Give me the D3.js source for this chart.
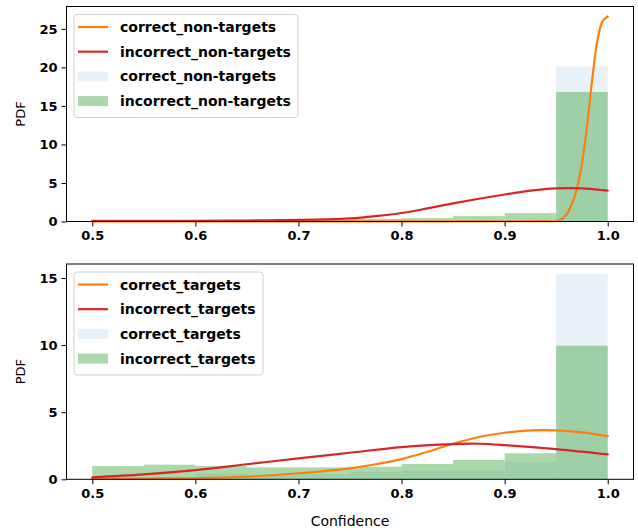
<!DOCTYPE html>
<html>
<head>
<meta charset="utf-8">
<script src="https://cdn.jsdelivr.net/npm/d3@7"></script>
<style>
  body { margin: 0; background: #fff; }
  svg { display: block; font-family: "DejaVu Sans", sans-serif; }
</style>
</head>
<body>
<div id="chart"></div>
<script>
// histogram bin edges (10 bins between 0.5 and 1.0)
const binEdges = [0.5, 0.55, 0.6, 0.65, 0.7, 0.75, 0.8, 0.85, 0.9, 0.95, 1.0]

// top panel: non-targets
const topCorrectBars = [0, 0, 0, 0, 0, 0, 0, 0, 0, 20.1]
const topIncorrectBars = [0.05, 0.08, 0.1, 0.15, 0.22, 0.35, 0.44, 0.7, 1.09, 16.8]
const topCorrectX = [0.5, 0.6, 0.7, 0.8, 0.9, 0.94, 0.95, 0.955, 0.96, 0.965, 0.97, 0.975, 0.98, 0.985, 0.99, 0.995, 1.0]
const topCorrectY = [0.02, 0.02, 0.02, 0.02, 0.03, 0.04, 0.06, 0.3, 0.9, 2.2, 4.2, 7.5, 12.5, 18.5, 23.5, 26.0, 26.6]
const topIncorrectX = [0.5, 0.6, 0.65, 0.7, 0.725, 0.75, 0.775, 0.8, 0.825, 0.85, 0.875, 0.9, 0.925, 0.95, 0.975, 1.0]
const topIncorrectY = [0.08, 0.1, 0.13, 0.2, 0.27, 0.4, 0.7, 1.1, 1.7, 2.35, 2.95, 3.5, 4.0, 4.3, 4.3, 4.0]

// bottom panel: targets
const botCorrectBars = [0.05, 0.1, 0.45, 0.35, 0.4, 0.55, 0.65, 0.7, 1.3, 15.28]
const botIncorrectBars = [0.99, 1.09, 0.99, 0.89, 0.89, 0.94, 1.14, 1.44, 1.94, 9.95]
const botCorrectX = [0.5, 0.55, 0.6, 0.65, 0.7, 0.75, 0.775, 0.8, 0.825, 0.85, 0.875, 0.9, 0.925, 0.95, 0.975, 1.0]
const botCorrectY = [0.05, 0.06, 0.08, 0.2, 0.45, 0.82, 1.12, 1.5, 2.05, 2.65, 3.15, 3.47, 3.65, 3.65, 3.5, 3.22]
const botIncorrectX = [0.5, 0.55, 0.6, 0.65, 0.7, 0.75, 0.8, 0.85, 0.875, 0.9, 0.95, 1.0]
const botIncorrectY = [0.15, 0.37, 0.69, 1.12, 1.56, 1.98, 2.4, 2.62, 2.65, 2.55, 2.25, 1.85]

const topTicks = [0, 5, 10, 15, 20, 25]
const botTicks = [0, 5, 10, 15]
const xTicks = [0.5, 0.6, 0.7, 0.8, 0.9, 1.0]

const W = 638, H = 531
const svg = d3.select("#chart").append("svg")
    .attr("width", W)
    .attr("height", H)

function panel(cfg) {
    const left = 66.5, right = 633.5
    const x = d3.scaleLinear().domain([0.475, 1.025]).range([left, right])
    const y = d3.scaleLinear().domain([0, cfg.ymax]).range([cfg.bottom, cfg.top])
    const g = svg.append("g")

    // bars: correct (blue, faint) then incorrect (green)
    const drawBars = (vals, color, alpha) => {
        g.append("g").selectAll("rect")
            .data(vals)
            .join("rect")
            .attr("x", (d, i) => x(binEdges[i]))
            .attr("width", (d, i) => x(binEdges[i + 1]) - x(binEdges[i]))
            .attr("y", d => y(d))
            .attr("height", d => y(0) - y(d))
            .attr("fill", color)
            .attr("fill-opacity", alpha)
    }
    drawBars(cfg.correctBars, "#1f77b4", 0.1)
    drawBars(cfg.incorrectBars, "#2ca02c", 0.4)

    // kde lines
    const line = d3.line()
        .x(d => x(d[0]))
        .y(d => y(d[1]))
        .curve(d3.curveCatmullRom.alpha(0.5))
    const drawLine = (xs, ys, color) => {
        g.append("path")
            .datum(xs.map((v, i) => [v, ys[i]]))
            .attr("d", line)
            .attr("fill", "none")
            .attr("stroke", color)
            .attr("stroke-width", 2.2)
            .attr("stroke-linecap", "round")
    }
    drawLine(cfg.correctX, cfg.correctY, "#ff7f0e")
    drawLine(cfg.incorrectX, cfg.incorrectY, "#d62728")

    // frame
    g.append("rect")
        .attr("x", left).attr("y", cfg.top)
        .attr("width", right - left).attr("height", cfg.bottom - cfg.top)
        .attr("fill", "none").attr("stroke", "#000").attr("stroke-width", 1)

    // axes
    const xAxis = g.append("g")
        .attr("transform", `translate(0,${cfg.bottom})`)
        .call(d3.axisBottom(x).tickValues(xTicks).tickFormat(d3.format(".1f")).tickSize(5).tickPadding(4))
    const yAxis = g.append("g")
        .attr("transform", `translate(${left},0)`)
        .call(d3.axisLeft(y).tickValues(cfg.ticks).tickSize(5).tickPadding(4))
    for (const ax of [xAxis, yAxis]) {
        ax.select(".domain").remove()
        ax.selectAll("text")
            .attr("font-size", 13)
            .attr("font-weight", "bold")
            .attr("font-family", "DejaVu Sans")
            .attr("fill", "#000")
    }

    g.append("text")
        .attr("transform", `translate(21,${(cfg.top + cfg.bottom) / 2}) rotate(-90)`)
        .attr("text-anchor", "middle")
        .attr("dominant-baseline", "middle")
        .attr("font-size", 13)
        .text("PDF")

    // legend
    const lg = g.append("g").attr("transform", `translate(74,${cfg.top + 8})`)
    lg.append("rect")
        .attr("width", cfg.legendW).attr("height", 103)
        .attr("rx", 3)
        .attr("fill", "#fff").attr("fill-opacity", 0.8)
        .attr("stroke", "#d0d0d0")
    const items = [
        { label: cfg.names[0], type: "line", color: "#ff7f0e" },
        { label: cfg.names[1], type: "line", color: "#d62728" },
        { label: cfg.names[0], type: "patch", color: "#1f77b4", alpha: 0.1 },
        { label: cfg.names[1], type: "patch", color: "#2ca02c", alpha: 0.4 }
    ]
    items.forEach((it, i) => {
        const cy = 12.5 + i * 24.7
        if (it.type === "line") {
            lg.append("line")
                .attr("x1", 4).attr("x2", 34).attr("y1", cy).attr("y2", cy)
                .attr("stroke", it.color).attr("stroke-width", 2.2)
        } else {
            lg.append("rect")
                .attr("x", 4).attr("y", cy - 5).attr("width", 30).attr("height", 10)
                .attr("fill", it.color).attr("fill-opacity", it.alpha)
        }
        lg.append("text")
            .attr("x", 46).attr("y", cy)
            .attr("dominant-baseline", "central")
            .attr("font-size", 14)
            .attr("font-weight", "bold")
            .text(it.label)
    })
    return x
}

panel({
    top: 6.5, bottom: 221.5, ymax: 27.9, ticks: topTicks,
    correctBars: topCorrectBars, incorrectBars: topIncorrectBars,
    correctX: topCorrectX, correctY: topCorrectY,
    incorrectX: topIncorrectX, incorrectY: topIncorrectY,
    names: ["correct_non-targets", "incorrect_non-targets"], legendW: 224
})

panel({
    top: 264, bottom: 479.3, ymax: 16.04, ticks: botTicks,
    correctBars: botCorrectBars, incorrectBars: botIncorrectBars,
    correctX: botCorrectX, correctY: botCorrectY,
    incorrectX: botIncorrectX, incorrectY: botIncorrectY,
    names: ["correct_targets", "incorrect_targets"], legendW: 189
})

svg.append("text")
    .attr("x", (66.5 + 633.5) / 2)
    .attr("y", 526)
    .attr("text-anchor", "middle")
    .attr("font-size", 14)
    .text("Confidence")
</script>
</body>
</html>
